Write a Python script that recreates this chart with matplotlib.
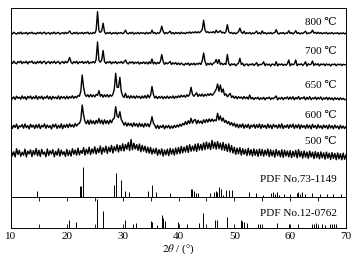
import matplotlib
matplotlib.use('Agg')
import matplotlib.pyplot as plt
import numpy as np

plt.rcParams['font.family'] = ['Liberation Serif', 'DejaVu Serif']
plt.rcParams['mathtext.fontset'] = 'stix'
plt.rcParams['font.size'] = 8

#%% XRD traces, read every 0.25 deg (intensity in a.u., each relative to its own baseline)
two_theta = np.arange(10, 70.001, 0.25)

y_800 = [0.9, -0.2, 1.4, 0.3, -0.4, 1.1, 0.0, 1.6, -0.3, 0.8, 0.2, 1.3, -0.5, 1.0, 0.4, 1.5, -0.1, 0.7, -0.4, 1.2,
         0.3, 1.4, -0.2, 0.9, 1.5, -0.3, 0.6, 1.2, -0.5, 1.0, 0.1, 1.6, -0.2, 0.8, 1.3, -0.4, 0.5, 1.1, -0.1, 1.4,
         0.2, 1.0, 2.7, 0.4, -0.3, 1.2, 0.1, 1.5, -0.4, 0.9, 0.3, 1.3, -0.2, 1.1, 0.5, 1.6, -0.3, 0.8, 0.0, 1.2,
         0.4, 3.5, 22.0, 3.0, 1.2, 3.0, 10.5, 1.8, -0.2, 1.1, 0.3, 1.4, -0.4, 0.9, 0.2, 1.3, -0.3, 1.0, 0.5, 1.2,
         -0.1, 1.0, 3.5, 0.6, -0.3, 1.2, 0.2, 1.5, -0.4, 0.8, 0.1, 1.3, -0.2, 1.1, 0.4, 0.9, -0.3, 1.4, 0.0, 1.0,
         0.3, 3.5, 0.4, 1.2, -0.2, 1.0, 0.3, 2.0, 7.5, 2.5, -0.1, 1.2, 0.2, 1.4, 2.5, 0.0, 1.1, -0.3, 1.3, 0.2,
         1.2, -0.2, 1.5, 0.3, 0.9, -0.1, 1.4, 0.6, 1.8, 0.4, 1.6, 0.9, 2.0, 0.7, 1.9, 1.0, 2.2, 4.0, 13.5, 3.5,
         1.2, 2.0, 0.8, 1.7, 1.0, 2.1, 0.6, 3.5, 1.2, 1.8, 3.0, 0.7, 1.5, 0.4, 2.0, 9.0, 2.0, 0.5, 1.3, -0.1,
         1.1, -0.2, 0.9, 2.0, 5.5, 1.5, 0.3, 2.5, -0.2, 1.0, 0.2, 1.3, -0.3, 0.8, 0.1, 1.2, 2.5, 0.0, 1.0, -0.3,
         2.8, 0.2, 1.1, -0.3, 0.9, 0.1, 1.3, -0.2, 0.8, 1.0, 4.0, 0.6, -0.3, 1.0, 0.2, 1.2, -0.2, 0.7, 0.4, 3.0,
         0.2, 1.1, -0.2, 0.9, 3.0, 0.3, 1.2, -0.3, 0.8, 0.1, 1.3, 2.5, -0.2, 0.9, 0.4, 1.2, 3.5, 0.5, 1.4, 0.0,
         1.5, 0.2, 1.1, -0.2, 0.9, 0.3, 1.3, -0.3, 0.8, 0.1, 1.2, -0.2, 0.7, 0.3, 1.0, -0.4, 0.8, 0.0, 0.9, -0.2,
         0.6]

y_700 = [3.4, 1.5, 3.8, 2.0, 1.2, 3.5, 2.4, 3.9, 1.4, 3.1, 2.2, 3.7, 1.1, 3.3, 2.6, 3.9, 1.6, 2.9, 1.3, 3.6,
         2.1, 3.8, 1.4, 3.2, 3.7, 1.2, 2.7, 3.5, 1.3, 3.3, 2.0, 3.9, 1.5, 3.0, 3.6, 1.1, 2.5, 3.4, 1.6, 3.7,
         2.2, 3.8, 7.5, 3.0, 1.3, 3.4, 2.1, 3.8, 1.2, 3.1, 2.4, 3.6, 1.5, 3.2, 2.0, 3.9, 1.3, 2.8, 2.2, 3.5,
         2.0, 5.5, 23.0, 4.5, 2.8, 5.0, 14.5, 3.5, 1.5, 3.2, 2.2, 3.6, 1.2, 3.0, 2.0, 3.4, 1.3, 2.9, 2.1, 3.5,
         1.6, 3.0, 5.0, 2.2, 1.0, 3.1, 2.0, 3.3, 1.2, 2.8, 1.8, 3.2, 0.9, 2.7, 1.6, 3.1, 1.3, 2.9, 1.0, 3.2,
         1.4, 6.0, 1.1, 2.8, 0.9, 2.6, 1.5, 3.5, 10.5, 3.5, 0.6, 2.4, 1.2, 2.2, 3.5, 0.5, 2.2, 1.0, 2.4, 0.4,
         2.0, 0.3, 1.9, 0.8, -0.2, 1.6, 0.6, 2.0, -0.4, 1.5, 0.4, 1.8, 0.0, 1.6, 0.7, 2.1, 0.5, 4.0, 12.0, 3.5,
         -0.3, 1.6, 0.4, 1.9, 0.0, 1.8, 2.5, 5.5, 1.5, 5.5, 0.5, 1.8, 0.2, 1.5, 0.6, 10.5, 1.5, -0.6, 1.2, 0.3,
         1.2, -0.8, 0.9, 1.8, 6.7, 0.5, 1.8, -0.9, 0.6, 1.1, -0.8, 0.9, 0.2, 1.3, -0.5, 0.8, 2.3, -1.0, 0.7, 0.3,
         1.0, 3.2, -0.7, 1.2, 0.0, 0.9, -1.1, 1.0, 0.6, -0.4, 3.3, -0.9, 1.0, 0.1, 1.2, -0.6, 0.8, -0.2, 1.3, 5.0,
         -0.8, 1.1, 0.2, 1.0, 5.0, -0.7, 0.9, 0.3, 1.2, -0.5, 0.9, 3.2, -1.0, 1.2, 0.2, 0.8, 4.0, -0.6, 1.3, 0.1,
         1.3, -0.9, 1.0, 0.2, 1.2, -0.7, 1.1, 0.0, 0.9, -1.0, 0.8, 0.3, 1.1, -0.8, 0.9, 0.1, 1.0, -0.6, 0.7, 0.2,
         0.5]

y_650 = [2.9, 0.4, 2.4, -0.2, 3.1, 1.0, 2.2, 0.1, 3.4, 0.7, 2.6, -0.3, 2.9, 1.2, 3.3, 0.2, 2.5, 0.8, 3.6, 0.0,
         2.7, 0.9, 3.2, -0.1, 2.4, 1.1, 3.5, 0.3, 2.8, -0.2, 3.0, 1.0, 2.3, 0.5, 3.4, 0.1, 2.9, 1.2, 2.6, 0.4,
         3.2, 0.6, 2.7, 1.3, 3.5, 0.9, 2.9, 1.5, 3.8, 3.0, 8.0, 24.3, 12.0, 5.0, 2.8, 4.6, 2.2, 4.9, 2.5, 4.4,
         2.3, 4.8, 4.0, 8.6, 3.0, 4.9, 2.1, 4.5, 2.6, 4.8, 2.2, 4.4, 3.0, 5.0, 10.0, 26.0, 12.0, 12.0, 22.0, 8.0,
         3.5, 1.8, 6.0, 1.5, 3.4, 1.0, 3.6, 1.4, 3.2, 0.9, 3.5, 1.6, 3.0, 0.8, 3.3, 1.3, 3.7, 1.1, 4.5, 1.5,
         4.0, 12.8, 5.0, 1.2, 3.0, 0.7, 2.8, 1.2, 3.1, 0.6, 2.7, 1.0, 3.2, 0.9, 2.6, 1.3, 3.4, 0.8, 3.0, 1.5,
         3.6, 1.8, 4.2, 2.4, 3.9, 2.0, 4.6, 2.9, 5.0, 12.0, 5.0, 3.0, 4.8, 6.5, 2.8, 5.0, 3.2, 5.3, 2.9, 4.9,
         3.4, 5.5, 3.8, 5.8, 4.0, 5.2, 7.6, 10.0, 15.3, 8.0, 14.3, 7.0, 10.3, 4.0, 5.5, 2.5, 4.2, 6.0, 1.8, 3.4,
         1.0, 3.0, 0.5, 2.7, 1.2, 2.4, 0.3, 2.8, 0.7, 2.2, 0.1, 4.3, 0.4, 1.9, -0.3, 1.7, 0.6, 2.1, -0.4, 1.5,
         0.2, 2.0, -0.5, 1.6, 0.8, 2.2, -0.2, 1.4, 0.5, 1.9, 3.3, -0.6, 1.5, 0.3, 2.1, -0.4, 1.7, 0.6, 2.4, -0.1,
         2.3, 0.2, 2.6, -0.5, 1.8, 0.4, 2.9, -0.2, 1.6, 0.8, 2.5, -0.6, 2.0, 0.1, 2.7, -0.4, 1.5, 0.5, 2.3, -0.3,
         1.9, 0.3, 2.4, -0.7, 1.5, 0.2, 2.1, -0.5, 1.8, -0.1, 1.4, -0.8, 1.7, 0.0, 1.3, -0.6, 1.5, -0.2, 1.0, -0.5,
         0.0]

y_600 = [3.6, -0.4, 2.8, 0.6, 3.9, -0.8, 2.2, 1.1, 3.4, -0.2, 4.0, 0.3, 2.5, -0.9, 3.7, 0.8, 2.9, -0.5, 3.3, 0.2,
         3.8, -0.6, 2.6, 1.0, 4.1, -0.3, 3.0, 0.5, 2.4, -1.0, 3.5, 0.9, 3.9, -0.4, 2.7, 0.1, 4.2, -0.7, 3.1, 0.6,
         3.6, 0.4, 4.2, 1.2, 3.3, 0.8, 4.5, 1.9, 4.0, 4.5, 8.0, 23.0, 13.0, 6.5, 4.2, 7.8, 3.6, 8.0, 4.4, 7.2,
         3.9, 7.6, 4.8, 9.5, 4.6, 7.9, 3.8, 8.2, 4.5, 7.4, 4.1, 8.0, 5.2, 8.6, 10.0, 21.3, 12.0, 10.5, 16.3, 8.5,
         6.0, 2.8, 5.6, 1.9, 5.0, 2.4, 4.6, 1.3, 5.2, 2.0, 4.4, 1.1, 4.8, 1.6, 4.1, 0.9, 4.7, 1.8, 4.3, 1.2,
         4.8, 11.3, 5.0, 2.6, -0.3, 2.8, -0.6, 2.2, 0.4, 2.9, -0.8, 2.3, 0.2, 2.6, -0.5, 2.0, -0.2, 2.7, 0.5, 3.0,
         1.0, 3.8, 1.8, 4.6, 3.0, 6.4, 3.6, 7.2, 4.5, 9.7, 4.8, 7.6, 8.5, 4.2, 7.8, 4.9, 7.0, 4.4, 8.2, 5.3,
         8.6, 5.8, 9.1, 6.4, 9.0, 6.6, 8.2, 7.2, 14.7, 8.0, 12.0, 7.0, 10.0, 5.6, 7.6, 4.4, 6.5, 3.0, 5.5, 2.2,
         4.8, 1.0, 3.9, 0.2, 3.5, 0.8, 4.1, -0.3, 3.2, 0.5, 3.8, -0.6, 2.9, 0.9, 3.6, -0.2, 3.3, 0.4, 4.0, -0.5,
         3.4, 0.6, 2.7, -0.4, 3.9, 0.3, 3.0, -0.7, 3.6, 0.9, 2.8, -0.2, 3.5, 0.1, 4.1, -0.6, 2.6, 0.5, 3.3, -0.3,
         3.3, 0.7, 3.8, -0.4, 2.9, 0.2, 3.6, -0.8, 3.1, 0.5, 2.5, -0.5, 3.4, 0.0, 2.8, -0.9, 3.7, 0.4, 2.6, -0.6,
         3.4, 0.1, 2.3, -0.7, 3.0, 0.3, 2.6, -0.9, 3.2, -0.1, 2.4, -0.8, 2.9, 0.2, 2.1, -1.0, 2.7, -0.3, 2.0, -0.6,
         1.5]

y_500 = [7.5, 1.2, 5.2, 0.1, 8.2, 2.5, 6.6, 0.7, 4.8, 1.8, 7.9, 0.0, 5.9, 3.1, 7.1, 0.4, 6.4, 2.2, 8.4, 1.3,
         6.8, 0.5, 7.7, 2.8, 5.0, 0.2, 8.0, 1.6, 6.2, 3.0, 7.4, 0.3, 5.6, 1.9, 8.1, 0.8, 6.9, 2.4, 5.3, 0.6,
         7.6, 1.4, 6.3, 0.9, 8.3, 2.7, 7.0, 1.8, 8.9, 2.2, 6.5, 3.6, 9.4, 1.9, 7.8, 3.3, 9.8, 2.5, 8.1, 3.9,
         10.2, 3.0, 8.6, 4.4, 11.0, 2.8, 9.3, 4.9, 10.8, 3.5, 9.9, 5.2, 11.6, 4.0, 10.4, 6.1, 12.3, 5.0, 11.5, 6.3,
         13.2, 6.0, 12.5, 7.8, 14.6, 6.4, 17.5, 7.2, 13.8, 8.0, 12.4, 6.6, 13.0, 5.2, 11.6, 6.0, 10.8, 4.5, 9.9, 3.8,
         9.6, 2.9, 8.1, 3.6, 8.8, 1.7, 7.4, 2.6, 8.2, 0.9, 7.0, 2.2, 7.8, 1.4, 8.5, 2.8, 7.9, 1.9, 9.0, 3.0,
         9.5, 3.4, 10.6, 4.2, 9.9, 5.0, 11.4, 4.6, 12.3, 5.8, 11.0, 6.2, 12.8, 5.5, 13.4, 7.0, 12.6, 6.8, 14.2, 7.4,
         15.0, 8.2, 14.1, 7.5, 16.6, 8.8, 14.8, 7.9, 15.5, 8.4, 13.9, 7.1, 14.6, 6.6, 12.8, 5.5, 13.2, 4.9, 11.4, 4.0,
         9.8, 2.6, 8.9, 3.2, 9.4, 1.9, 8.3, 2.7, 7.6, 1.4, 8.8, 2.0, 7.4, 0.9, 8.1, 1.7, 7.2, 0.6, 8.0, 1.5,
         7.6, 0.8, 6.9, 1.9, 8.0, 0.4, 7.2, 1.1, 6.5, -0.2, 7.5, 1.4, 6.2, 0.2, 7.3, -0.4, 6.8, 0.9, 6.0, 0.1,
         6.4, -0.6, 5.8, 0.6, 6.6, -0.9, 7.4, 0.2, 5.5, -1.1, 6.1, -0.3, 5.0, -1.4, 5.9, 0.0, 4.8, -1.6, 5.4, -0.7,
         4.6, -1.8, 5.1, -0.9, 4.2, -2.2, 4.9, -1.2, 3.8, -2.5, 4.4, -1.5, 3.6, -2.7, 4.1, -1.9, 3.3, -2.8, 3.9, -2.3,
         2.0]

traces = [(y_800, '800 ℃'), (y_700, '700 ℃'), (y_650, '650 ℃'), (y_600, '600 ℃'), (y_500, '500 ℃')]
offsets = [163.0, 131.7, 97.4, 68.7, 39.7]
label_y = [174.7, 145.7, 110.7, 80.7, 54.7]

#%% Reference patterns (position, relative height)
pdf73_pos = [14.7, 22.35, 22.6, 22.9, 28.5, 28.75, 29.65, 30.47, 31.2, 34.6, 35.3, 36.0, 38.45,
             42.18, 42.42, 42.72, 43.08, 43.56, 45.64, 46.42, 46.66, 46.96, 47.26, 47.62, 48.03,
             48.57, 48.99, 49.58, 52.63, 53.94, 55.2, 56.57, 56.98, 57.29, 57.7, 58.0, 58.96,
             59.97, 61.17, 61.46, 61.77, 62.07, 62.66, 63.86, 65.35, 66.55, 67.73, 69.1]
pdf73_h = [5.7, 10.7, 10.7, 29.4, 11.7, 24.0, 16.7, 6.0, 4.7, 5.7, 11.7, 5.0, 3.5,
           7.3, 7.3, 5.3, 3.3, 3.3, 3.3, 4.7, 6.0, 4.7, 10.0, 8.0, 2.0,
           6.7, 6.7, 6.7, 4.7, 4.0, 2.0, 4.0, 4.5, 3.0, 4.5, 2.0, 3.0,
           3.0, 3.5, 4.5, 3.0, 4.5, 3.0, 3.5, 3.0, 3.0, 3.0, 3.0]

pdf12_pos = [20.44, 21.58, 25.46, 26.42, 30.42, 31.79, 32.33, 35.02, 35.26, 36.1, 37.0, 37.22,
             37.58, 39.97, 41.47, 43.67, 44.45, 46.54, 46.96, 48.63, 51.14, 51.45, 51.75, 52.2,
             54.2, 54.6, 57.7, 59.8, 61.35, 63.86, 64.25, 64.55, 65.65, 66.25, 67.15, 67.45,
             67.85, 68.2]
pdf12_h = [8.3, 6.0, 29.3, 17.6, 8.3, 4.0, 5.3, 7.6, 6.5, 3.0, 13.3, 10.0,
           7.0, 6.0, 4.0, 5.7, 15.7, 8.7, 8.7, 11.3, 8.7, 7.5, 6.5, 5.0,
           4.5, 4.5, 5.7, 4.0, 4.7, 4.0, 4.7, 5.3, 4.0, 3.3, 4.7, 4.0,
           4.7, 4.0]

fig = plt.figure(figsize=(3.58, 2.65), dpi=100)
ax1 = fig.add_axes([11/358, 68.3/265, 335/358, 188.7/265])
ax2 = fig.add_axes([11/358, 36.7/265, 335/358, 31.6/265])

for (ys, lab), off, ly in zip(traces, offsets, label_y):
    ax1.plot(two_theta, [v + off for v in ys], color='k', lw=1.0)
    ax1.text(68.4, ly, lab, ha='right', va='center', fontsize=8)

ax1.vlines(pdf73_pos, 0, pdf73_h, color='k', lw=0.7)
ax1.text(68.4, 17.7, 'PDF No.73-1149', ha='right', va='center', fontsize=8)
ax1.set_xlim(10, 70)
ax1.set_ylim(0, 188.7)
ax1.set_xticks([])
ax1.set_yticks([])

ax2.vlines(pdf12_pos, 0, pdf12_h, color='k', lw=0.7)
ax2.text(68.4, 14.3, 'PDF No.12-0762', ha='right', va='center', fontsize=8)
ax2.set_xlim(10, 70)
ax2.set_ylim(0, 31.6)
ax2.set_yticks([])
ax2.set_xticks(range(10, 71, 10))
ax2.set_xticks(range(15, 70, 10), minor=True)
ax2.tick_params(axis='x', which='both', direction='in', top=True, bottom=True,
                length=3, width=0.6, pad=3, labelsize=8)
ax2.set_xlabel(r'$\mathit{2}\theta$ / (°)', fontsize=8, labelpad=1)

for ax in (ax1, ax2):
    for s in ax.spines.values():
        s.set_linewidth(0.7)

plt.savefig('out.png', dpi=100)
